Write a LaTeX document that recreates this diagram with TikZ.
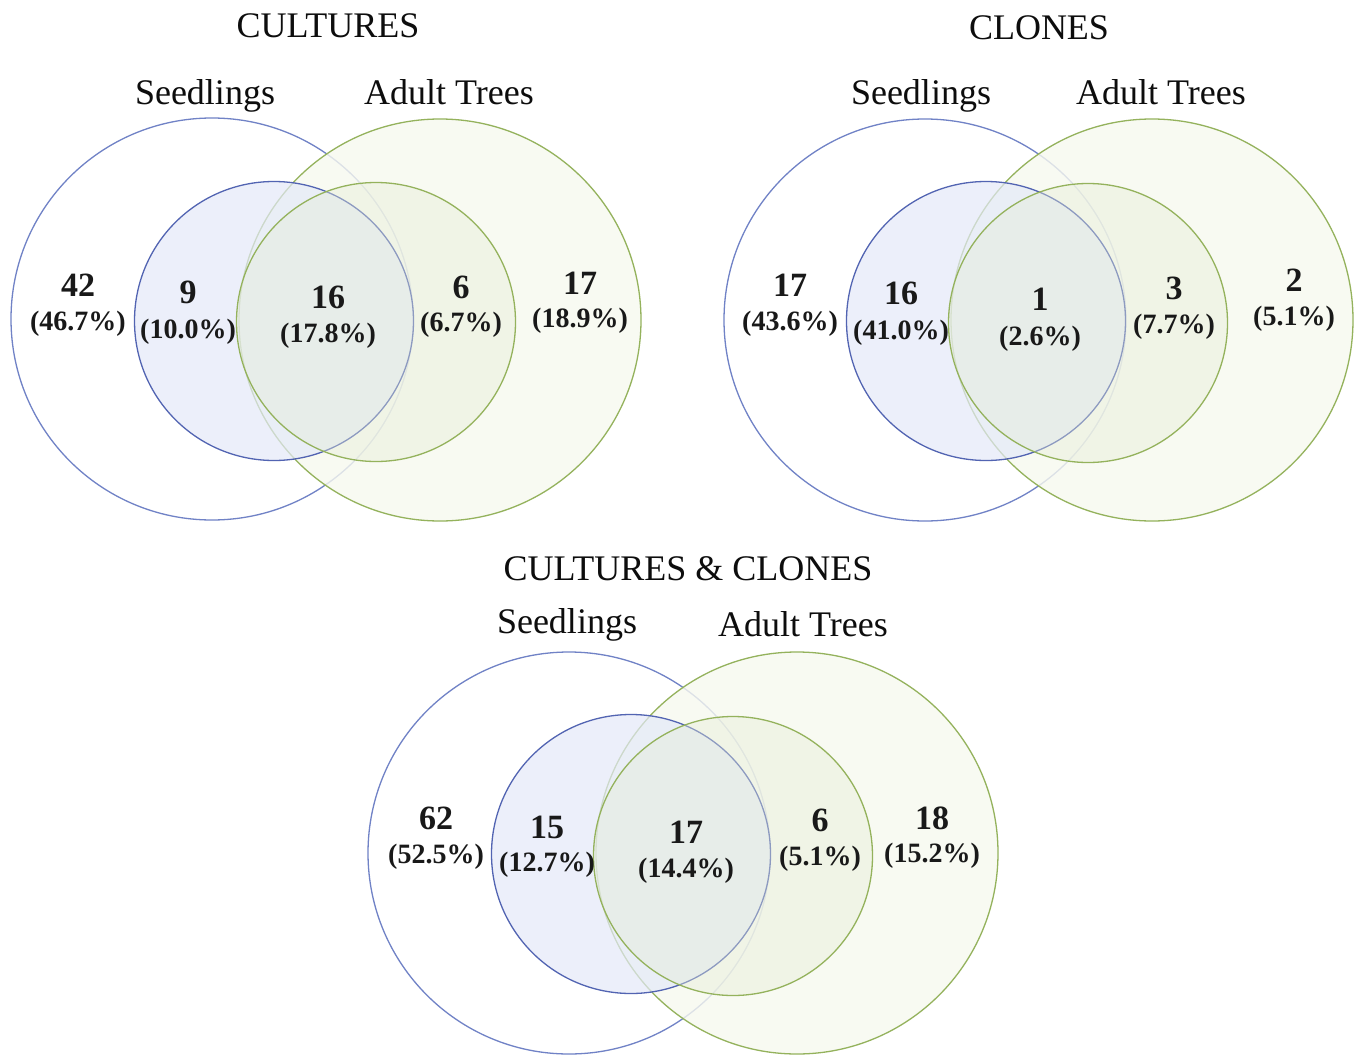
\documentclass[tikz,border=0pt]{standalone}
\usepackage{fontspec}
\setmainfont{Liberation Serif}
\begin{document}
\begin{tikzpicture}[x=1pt,y=-1pt,
  ring/.style={circle,inner sep=0pt,line width=1.3pt},
  bigblue/.style={ring,draw=blueline,minimum size=402pt},
  biggreen/.style={ring,draw=greenline,fill=greenbig,fill opacity=0.8,minimum size=402pt},
  smallblue/.style={ring,draw=blueinner,fill=bluefill,fill opacity=0.7,minimum size=279pt},
  smallgreen/.style={ring,draw=greenline,fill=greensmall,fill opacity=0.4,minimum size=279pt},
  num/.style={anchor=base,font=\fontsize{34}{38}\selectfont\bfseries,text=black!90},
  pct/.style={anchor=base,font=\fontsize{28}{32}\selectfont\bfseries,text=black!90},
  ttl/.style={anchor=base,font=\fontsize{36}{40}\selectfont,text=black!95}]
\definecolor{blueline}{RGB}{112,130,198}
\definecolor{blueinner}{RGB}{82,100,178}
\definecolor{bluefill}{RGB}{228,233,249}
\definecolor{greenline}{RGB}{148,178,92}
\definecolor{greenbig}{RGB}{247,249,239}
\definecolor{greensmall}{RGB}{230,237,214}
\useasboundingbox[fill=white] (0,0) rectangle (1358,1055);

% ---------- CULTURES ----------
\node[bigblue] (aBB) at (212,319) {};
\node[biggreen] (aBG) at (440,320) {};
\node[smallblue] (aSB) at (274,321) {};
\node[smallgreen] (aSG) at (376,322) {};
\node[ttl] (aT) at (328,37) {CULTURES};
\node[ttl] (aS) at (205,104) {Seedlings};
\node[ttl] (aA) at (449,104) {Adult Trees};
\node[num] (a1) at (78,296) {42};
\node[pct] (a1p) at (78,330) {(46.7\%)};
\node[num] (a2) at (188,303) {9};
\node[pct] (a2p) at (188,338) {(10.0\%)};
\node[num] (a3) at (328,308) {16};
\node[pct] (a3p) at (328,342) {(17.8\%)};
\node[num] (a4) at (461,298) {6};
\node[pct] (a4p) at (461,331) {(6.7\%)};
\node[num] (a5) at (580,294) {17};
\node[pct] (a5p) at (580,327) {(18.9\%)};

% ---------- CLONES ----------
\node[bigblue] (bBB) at (925,320) {};
\node[biggreen] (bBG) at (1152,320) {};
\node[smallblue] (bSB) at (986,321) {};
\node[smallgreen] (bSG) at (1088,323) {};
\node[ttl] (bT) at (1039,39) {CLONES};
\node[ttl] (bS) at (921,104) {Seedlings};
\node[ttl] (bA) at (1161,104) {Adult Trees};
\node[num] (b1) at (790,296) {17};
\node[pct] (b1p) at (790,330) {(43.6\%)};
\node[num] (b2) at (901,304) {16};
\node[pct] (b2p) at (901,339) {(41.0\%)};
\node[num] (b3) at (1040,310) {1};
\node[pct] (b3p) at (1040,345) {(2.6\%)};
\node[num] (b4) at (1174,299) {3};
\node[pct] (b4p) at (1174,333) {(7.7\%)};
\node[num] (b5) at (1294,291) {2};
\node[pct] (b5p) at (1294,325) {(5.1\%)};

% ---------- CULTURES & CLONES ----------
\node[bigblue] (cBB) at (569,853) {};
\node[biggreen] (cBG) at (797,853) {};
\node[smallblue] (cSB) at (631,854) {};
\node[smallgreen] (cSG) at (733,856) {};
\node[ttl] (cT) at (688,580) {CULTURES \& CLONES};
\node[ttl] (cS) at (567,633) {Seedlings};
\node[ttl] (cA) at (803,636) {Adult Trees};
\node[num] (c1) at (436,829) {62};
\node[pct] (c1p) at (436,863) {(52.5\%)};
\node[num] (c2) at (547,838) {15};
\node[pct] (c2p) at (547,871) {(12.7\%)};
\node[num] (c3) at (686,843) {17};
\node[pct] (c3p) at (686,877) {(14.4\%)};
\node[num] (c4) at (820,831) {6};
\node[pct] (c4p) at (820,865) {(5.1\%)};
\node[num] (c5) at (932,829) {18};
\node[pct] (c5p) at (932,862) {(15.2\%)};
\end{tikzpicture}
\end{document}
